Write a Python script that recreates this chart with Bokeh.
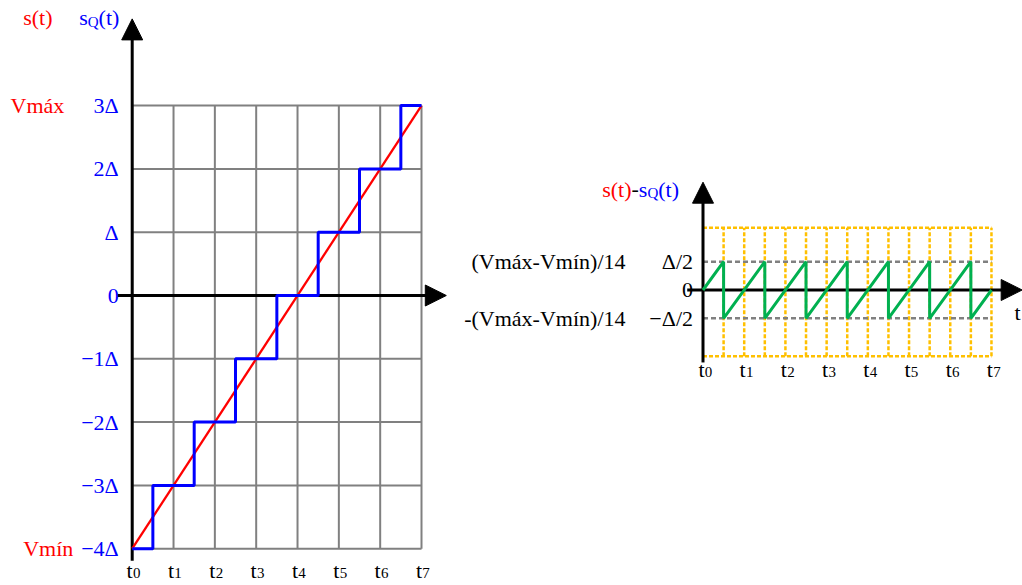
from bokeh.plotting import figure
from bokeh.layouts import row
from bokeh.models import Range1d, Arrow, NormalHead
from bokeh.core.properties import value
from bokeh.embed import file_html
from bokeh.resources import INLINE

# ---------------- data ----------------
T_TICKS = [0, 1, 2, 3, 4, 5, 6, 7]
T_SUBS = ["0", "1", "2", "3", "4", "5", "6", "7"]
Q_LEVELS = [-4, -3, -2, -1, 0, 1, 2, 3]
Q_LABELS = ["−4Δ", "−3Δ", "−2Δ", "−1Δ", "0", "Δ", "2Δ", "3Δ"]
SIGNAL_T = [0, 7]
SIGNAL_S = [-4, 3]
ERR_T = [0, 0.5, 0.5, 1.5, 1.5, 2.5, 2.5, 3.5, 3.5, 4.5, 4.5, 5.5, 5.5, 6.5, 6.5, 7]
ERR_V = [0, 0.5, -0.5, 0.5, -0.5, 0.5, -0.5, 0.5, -0.5, 0.5, -0.5, 0.5, -0.5, 0.5, -0.5, 0]
ERR_LEVELS = [0.5, 0, -0.5]
ERR_LABELS = ["Δ/2", "0", "−Δ/2"]
ERR_BOUNDS = [0.5, -0.5]
ERR_FORMULAS = ["(Vmáx-Vmín)/14", "-(Vmáx-Vmín)/14"]
GUIDE_T = [0.5, 1, 1.5, 2, 2.5, 3, 3.5, 4, 4.5, 5, 5.5, 6, 6.5, 7]
BOX_TOP = 1.1
BOX_BOTTOM = -1.17

# ---------------- layout constants ----------------
H = 585
FONT = value("Liberation Serif")
FS = "22px"
FS_SUB = "15px"
BLUE = "#0000FF"
RED = "#FF0000"
GRAY = "#808080"
ORANGE = "#FFC000"
GREEN = "#00B050"

# left panel: pixels per unit and origin (pixels in the panel)
LW, LPX, LPY, LOX, LOY = 450, 41.33, 63.3, 131.7, 295.0
# right panel
RW, RPX, RPY, ROX, ROY = 572, 41.21, 56.6, 252.5, 289.5
HEAD = 21


def make_fig(w, px, py, ox, oy):
    p = figure(width=w, height=H,
               x_range=Range1d(-ox / px, (w - ox) / px),
               y_range=Range1d(-(H - oy) / py, oy / py),
               output_backend="svg", toolbar_location=None,
               x_axis_type=None, y_axis_type=None,
               min_border=0, outline_line_color=None,
               background_fill_color="white", border_fill_color="white")
    return p


def txt(p, xs, ys, texts, color, size=FS, align="left", baseline="middle", dx=0, dy=0):
    p.text(x=xs, y=ys, text=texts, text_color=color, text_font=FONT,
           text_font_size=size, text_align=align, text_baseline=baseline,
           x_offset=dx, y_offset=dy)


def axis_arrows(p, x_axis, y_axis, px, py):
    (xa0, xa1), (ya0, ya1) = x_axis, y_axis
    # axis lines (stop just under the heads)
    p.segment(x0=[xa0, 0], y0=[0, ya0],
              x1=[xa1 - (HEAD - 3) / px, 0], y1=[0, ya1 - (HEAD - 3) / py],
              line_color="black", line_width=3)
    for xs, ys, xe, ye in [(xa1 - 1, 0, xa1, 0), (0, ya1 - 1, 0, ya1)]:
        p.add_layout(Arrow(end=NormalHead(size=HEAD, fill_color="black",
                                          line_color="black", line_width=1),
                           x_start=xs, y_start=ys, x_end=xe, y_end=ye,
                           line_alpha=0))


# ================= left panel =================
pl = make_fig(LW, LPX, LPY, LOX, LOY)
t0, t7 = min(T_TICKS), max(T_TICKS)
qmin, qmax = min(Q_LEVELS), max(Q_LEVELS)

pl.segment(x0=T_TICKS, y0=[qmin] * len(T_TICKS), x1=T_TICKS, y1=[qmax] * len(T_TICKS),
           line_color=GRAY, line_width=2)
pl.segment(x0=[t0] * len(Q_LEVELS), y0=Q_LEVELS, x1=[t7] * len(Q_LEVELS), y1=Q_LEVELS,
           line_color=GRAY, line_width=2)

axis_arrows(pl, (-0.35, 7.6), (-4.19, 4.37), LPX, LPY)

pl.line(x=SIGNAL_T, y=SIGNAL_S, line_color=RED, line_width=2.3)
pl.step(x=T_TICKS, y=Q_LEVELS, mode="center", line_color=BLUE, line_width=3)

# tick labels
txt(pl, [0] * len(Q_LEVELS), Q_LEVELS, Q_LABELS, BLUE, align="right", dx=-13.5)
txt(pl, [0], [qmax], ["Vmáx"], RED, dx=-121.7)
txt(pl, [0], [qmin], ["Vmín"], RED, dx=-109)
# t labels
txt(pl, T_TICKS, [qmin] * 8, ["t"] * 8, "black", align="right", baseline="alphabetic", dx=0.5, dy=21.5)
txt(pl, T_TICKS, [qmin] * 8, T_SUBS, "black", size=FS_SUB, baseline="alphabetic", dx=0.8, dy=24)
# axis titles
txt(pl, [0], [qmax], ["s(t)"], RED, baseline="alphabetic", dx=-109, dy=-88)
txt(pl, [0], [qmax], ["s"], BLUE, baseline="alphabetic", dx=-53, dy=-88)
txt(pl, [0], [qmax], ["Q"], BLUE, size=FS_SUB, baseline="alphabetic", dx=-44.4, dy=-84)
txt(pl, [0], [qmax], ["(t)"], BLUE, baseline="alphabetic", dx=-33.6, dy=-88)

# ================= right panel =================
pr = make_fig(RW, RPX, RPY, ROX, ROY)

pr.segment(x0=[t0, t0], y0=[BOX_TOP, BOX_BOTTOM], x1=[t7, t7], y1=[BOX_TOP, BOX_BOTTOM],
           line_color=ORANGE, line_width=2.5, line_dash="4 2")
pr.segment(x0=GUIDE_T, y0=[BOX_BOTTOM] * len(GUIDE_T), x1=GUIDE_T, y1=[BOX_TOP] * len(GUIDE_T),
           line_color=ORANGE, line_width=2.5, line_dash="4 2")
pr.segment(x0=[t0] * 2, y0=ERR_BOUNDS, x1=[t7] * 2, y1=ERR_BOUNDS,
           line_color=GRAY, line_width=2.5, line_dash="5 3")

axis_arrows(pr, (-0.383, 7.745), (-1.28, 1.905), RPX, RPY)

pr.line(x=ERR_T, y=ERR_V, line_color=GREEN, line_width=3)

txt(pr, [0] * 3, ERR_LEVELS, ERR_LABELS, "black", align="right", dx=-10)
txt(pr, [0] * 2, ERR_BOUNDS, ERR_FORMULAS, "black", align="right", dx=-77.5)
txt(pr, [t7], [0], ["t"], "black", align="center", dx=26, dy=22.5)
txt(pr, T_TICKS, [0] * 8, ["t"] * 8, "black", align="right", baseline="alphabetic", dx=1.5, dy=79)
txt(pr, T_TICKS, [0] * 8, T_SUBS, "black", size=FS_SUB, baseline="alphabetic", dx=1.8, dy=81.5)
# title s(t)-sQ(t)
txt(pr, [0], [0], ["s(t)"], RED, baseline="alphabetic", dx=-100.8, dy=-101)
txt(pr, [0], [0], ["-"], "black", baseline="alphabetic", dx=-71.5, dy=-101)
txt(pr, [0], [0], ["s"], BLUE, baseline="alphabetic", dx=-64.2, dy=-101)
txt(pr, [0], [0], ["Q"], BLUE, size=FS_SUB, baseline="alphabetic", dx=-55.6, dy=-97)
txt(pr, [0], [0], ["(t)"], BLUE, baseline="alphabetic", dx=-44.8, dy=-101)

layout = row(pl, pr)
open("out.html", "w").write(file_html(layout, INLINE))
